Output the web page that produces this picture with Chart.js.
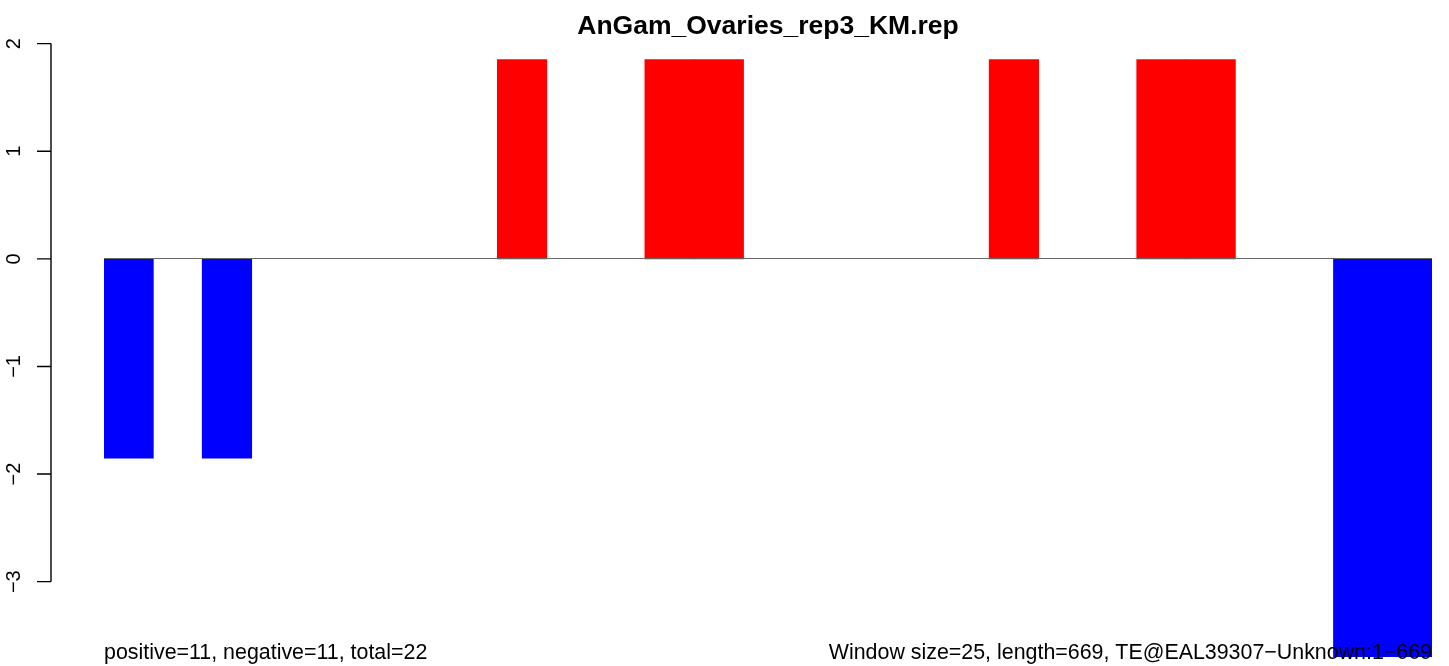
<!DOCTYPE html>
<html>
<head>
<meta charset="utf-8">
<script src="https://cdn.jsdelivr.net/npm/chart.js@4/dist/chart.umd.min.js"></script>
<style>
    html, body { margin: 0; padding: 0; background: #fff; }
    #wrap { width: 1449px; height: 666px; }
</style>
</head>
<body>
<div id="wrap"><canvas id="grafico"></canvas></div>
<script>
// 27 windows of 25 nt over a length of 669
const windows = ['1', '2', '3', '4', '5', '6', '7', '8', '9', '10', '11', '12', '13', '14',
    '15', '16', '17', '18', '19', '20', '21', '22', '23', '24', '25', '26', '27'];
const valores = [-1.85, 0, -1.85, 0, 0, 0, 0, 0, 1.85, 0, 0, 1.85, 1.85, 0,
    0, 0, 0, 0, 1.85, 0, 0, 1.85, 1.85, 0, 0, -3.7, -3.7];
const yTicks = [2, 1, 0, -1, -2, -3];

const titulo = 'AnGam_Ovaries_rep3_KM.rep';
const textoEsq = 'positive=11, negative=11, total=22';
const textoDir = 'Window size=25, length=669, TE@EAL39307\u2212Unknown:1\u2212669';

const fonte = '"Liberation Sans", Arial, Helvetica, sans-serif';

// axis, zero line and texts drawn R-style
const estiloR = {
    id: 'estiloR',
    afterDatasetsDraw(chart) {
        const c = chart.ctx;
        const y = chart.scales.y;
        const area = chart.chartArea;
        c.save();

        // zero line
        const y0 = Math.round(y.getPixelForValue(0)) - 0.5;
        c.strokeStyle = '#666666';
        c.lineWidth = 1;
        c.beginPath();
        c.moveTo(area.left, y0);
        c.lineTo(area.right, y0);
        c.stroke();

        // y axis
        const xAxis = 51;
        const top = y.getPixelForValue(Math.max(...yTicks));
        const bot = y.getPixelForValue(Math.min(...yTicks));
        c.strokeStyle = '#000';
        c.lineWidth = 1.4;
        c.beginPath();
        c.moveTo(xAxis, top);
        c.lineTo(xAxis, bot);
        yTicks.forEach(function (t) {
            const py = y.getPixelForValue(t);
            c.moveTo(xAxis, py);
            c.lineTo(xAxis - 14, py);
        });
        c.stroke();

        c.fillStyle = '#000';
        c.font = '20px ' + fonte;
        c.textAlign = 'center';
        c.textBaseline = 'alphabetic';
        yTicks.forEach(function (t) {
            const py = y.getPixelForValue(t);
            c.save();
            c.translate(20, py);
            c.rotate(-Math.PI / 2);
            c.fillText(String(t).replace('-', '\u2212'), 0, 0);
            c.restore();
        });

        // title
        c.font = 'bold 26.5px ' + fonte;
        c.textAlign = 'center';
        c.fillText(titulo, (area.left + area.right) / 2, 34);

        // bottom texts
        c.font = '21.4px ' + fonte;
        c.textAlign = 'left';
        c.fillText(textoEsq, area.left, 659);
        c.textAlign = 'right';
        c.fillText(textoDir, area.right, 659);

        c.restore();
    }
};

const ctx = document.getElementById('grafico').getContext('2d');
new Chart(ctx, {
    type: 'bar',
    data: {
        labels: windows,
        datasets: [{
            data: valores,
            backgroundColor: function (context) {
                if (context.raw === 0) return 'rgba(0,0,0,0)';
                return context.raw > 0 ? '#ff0000' : '#0000ff';
            },
            borderWidth: 0,
            inflateAmount: 0.5,
            barPercentage: 1,
            categoryPercentage: 1
        }]
    },
    options: {
        responsive: true,
        maintainAspectRatio: false,
        animation: false,
        layout: {
            padding: { left: 104, right: 17, top: 35, bottom: 9 }
        },
        plugins: {
            legend: { display: false },
            tooltip: { enabled: false }
        },
        scales: {
            x: { display: false },
            y: { display: false, min: -3.7, max: 2.08 }
        }
    },
    plugins: [estiloR]
});
</script>
</body>
</html>
